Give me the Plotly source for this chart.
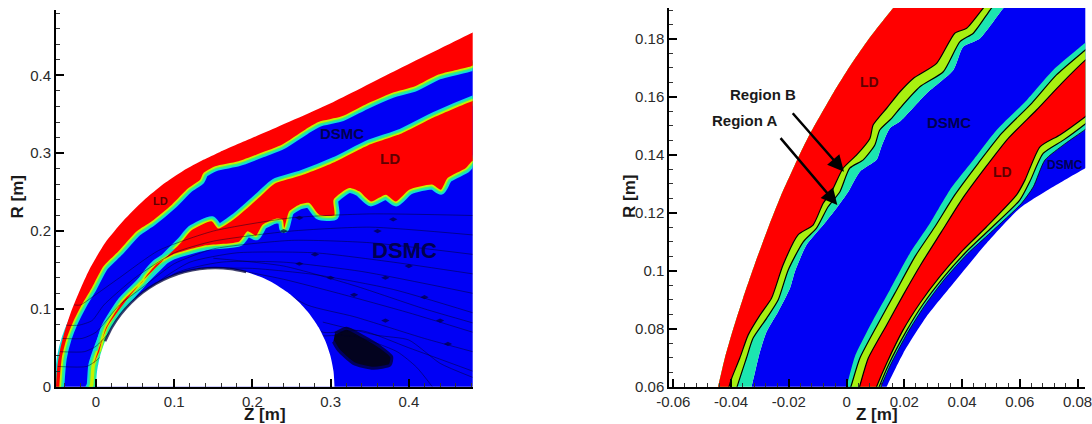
import plotly.graph_objects as go

RED = "#FF0000"; BLUE = "#0000F5"; TEAL = "#1CE6B0"; LIME = "#A8F010"
INK = "#1a1a1a"

# ---------- left panel (Z, R in metres) ----------
shock_z = [-0.0515, -0.0512, -0.0495, -0.046, -0.0396, -0.0311, -0.0205, -0.0088, 0.0115, 0.0349, 0.0605, 0.0861, 0.1116, 0.1372, 0.1586, 0.218, 0.303, 0.389, 0.4817, 0.5]
shock_r = [-0.01, 0, 0.0257, 0.0472, 0.0729, 0.0986, 0.1243, 0.15, 0.1847, 0.2132, 0.2389, 0.2603, 0.2775, 0.2915, 0.3017, 0.3275, 0.3655, 0.409, 0.455, 0.464]
b1_z = [-0.0452, -0.0448, -0.0418, -0.0354, -0.0269, -0.0162, -0.0035, 0.0115, 0.0307, 0.0541, 0.0733, 0.0989, 0.1202, 0.1352, 0.1394, 0.1544, 0.1841, 0.2182, 0.2396, 0.2694, 0.2864, 0.3163, 0.3461, 0.3802, 0.4101, 0.4399, 0.4817, 0.5]
b1_r = [-0.01, 0, 0.0343, 0.06, 0.0816, 0.1028, 0.1243, 0.1522, 0.1714, 0.1971, 0.21, 0.2314, 0.2528, 0.2635, 0.2721, 0.2807, 0.2871, 0.2999, 0.3085, 0.3278, 0.3376, 0.3449, 0.3599, 0.3749, 0.3835, 0.3985, 0.4092, 0.418]
b2_z = [-0.0105, -0.0098, -0.0077, -0.0055, 0.003, 0.0136, 0.035, 0.0605, 0.0818, 0.1074, 0.1202, 0.1458, 0.1543, 0.1756, 0.2097, 0.2268, 0.2609, 0.3035, 0.3461, 0.3887, 0.4314, 0.4817, 0.5]
b2_r = [-0.01, 0, 0.0043, 0.03, 0.0557, 0.0814, 0.1114, 0.1414, 0.1628, 0.1885, 0.2035, 0.2151, 0.2057, 0.2185, 0.2485, 0.2635, 0.2742, 0.2913, 0.3128, 0.3278, 0.3492, 0.3706, 0.377]
b3_z = [0.0051, 0.0136, 0.035, 0.0605, 0.0648, 0.0776, 0.0989, 0.1415, 0.1841, 0.1948, 0.2055, 0.214, 0.231, 0.2396, 0.2417, 0.2481, 0.2609, 0.2737, 0.2864, 0.3056, 0.3048, 0.3248, 0.3376, 0.3525, 0.3717, 0.3845, 0.4015, 0.4314, 0.442, 0.4506, 0.474, 0.4817, 0.5]
b3_r = [0.0428, 0.0728, 0.1071, 0.1328, 0.1392, 0.1542, 0.1671, 0.1791, 0.1842, 0.1971, 0.1919, 0.2057, 0.2134, 0.2121, 0.2014, 0.2228, 0.2314, 0.2335, 0.2185, 0.2177, 0.2378, 0.2528, 0.2485, 0.2356, 0.2442, 0.2356, 0.2506, 0.2571, 0.2506, 0.2656, 0.2785, 0.2871, 0.297]
body_z = [0, 0, 0.0013, 0.0052, 0.0116, 0.0204, 0.0315, 0.0447, 0.0597, 0.0763, 0.0941, 0.113, 0.1326, 0.1525, 0.1724, 0.192, 0.2109, 0.2287, 0.2453, 0.2603, 0.2735, 0.2846, 0.2934, 0.2998, 0.3037, 0.305, 0.305]
body_r = [-0.01, 0, 0.0199, 0.0395, 0.0584, 0.0763, 0.0928, 0.1078, 0.121, 0.1321, 0.1409, 0.1473, 0.1512, 0.1525, 0.1512, 0.1473, 0.1409, 0.1321, 0.121, 0.1078, 0.0928, 0.0763, 0.0584, 0.0395, 0.0199, 0, -0.01]
vortex_z = [0.3056, 0.3205, 0.3419, 0.3632, 0.3781, 0.376, 0.3546, 0.3291, 0.3099, 0.3035]
vortex_r = [0.0686, 0.075, 0.0643, 0.0514, 0.0386, 0.0278, 0.0236, 0.03, 0.0471, 0.0578]
stream_z = [
    [-0.028, -0.02, -0.005, 0.03, 0.08, 0.15, 0.25, 0.35, 0.4817],
    [-0.038, -0.022, -0.005, 0.01, 0.05, 0.1, 0.15, 0.25, 0.35, 0.4817],
    [-0.043, -0.018, 0.0, 0.03, 0.06, 0.1, 0.15, 0.25, 0.35, 0.4817],
    [-0.046, -0.015, 0.0, 0.04, 0.08, 0.12, 0.18, 0.28, 0.38, 0.4817],
    [-0.049, -0.012, 0.002, 0.05, 0.1, 0.16, 0.24, 0.34, 0.4817],
    [0.13, 0.2, 0.28, 0.38, 0.4817],
    [0.18, 0.24, 0.31, 0.4, 0.4817],
    [0.22, 0.27, 0.33, 0.42, 0.4817],
    [0.26, 0.29, 0.34, 0.4, 0.4817],
    [0.285, 0.33, 0.385, 0.41, 0.43],
    [0.29, 0.36, 0.4, 0.44, 0.4817],
    [0.15, 0.24, 0.33, 0.42, 0.4817],
]
stream_r = [
    [0.105, 0.105, 0.115, 0.14, 0.175, 0.2, 0.217, 0.222, 0.22],
    [0.079, 0.079, 0.085, 0.105, 0.14, 0.172, 0.187, 0.2, 0.205, 0.195],
    [0.062, 0.062, 0.07, 0.105, 0.128, 0.158, 0.177, 0.188, 0.185, 0.17],
    [0.045, 0.045, 0.052, 0.095, 0.135, 0.16, 0.172, 0.172, 0.16, 0.145],
    [0.026, 0.026, 0.035, 0.09, 0.145, 0.16, 0.16, 0.148, 0.12],
    [0.152, 0.152, 0.144, 0.125, 0.095],
    [0.15, 0.138, 0.12, 0.095, 0.07],
    [0.135, 0.105, 0.09, 0.062, 0.045],
    [0.09, 0.07, 0.072, 0.05, 0.02],
    [0.065, 0.065, 0.045, 0.025, 0.0],
    [0.083, 0.066, 0.06, 0.03, 0.012],
    [0.165, 0.155, 0.13, 0.1, 0.082],
]
arrow_z = [0.26, 0.38, 0.24, 0.36, 0.28, 0.4, 0.26, 0.37, 0.3, 0.42, 0.33, 0.44, 0.37, 0.45]
arrow_r = [0.217, 0.215, 0.2, 0.2, 0.17, 0.155, 0.158, 0.14, 0.14, 0.115, 0.118, 0.085, 0.085, 0.055]

# ---------- right panel (Z, R in metres) ----------
s_z = [-0.0458, -0.0445, -0.0422, -0.0393, -0.0358, -0.0318, -0.0272, -0.0228, -0.0162, -0.0127, -0.0046, 0.0011, 0.0069, 0.0115, 0.0161, 0.0185]
s_r = [0.055, 0.06, 0.0697, 0.0798, 0.0907, 0.1023, 0.1147, 0.1257, 0.1402, 0.1472, 0.1614, 0.1705, 0.1789, 0.1849, 0.1906, 0.1935]
t_z = [-0.0418, -0.0407, -0.0398, -0.037, -0.0341, -0.03, -0.026, -0.022, -0.0168, -0.0116, -0.0081, -0.0052, -0.0012, 0.0035, 0.0081, 0.0092, 0.0139, 0.0185, 0.0231, 0.0312, 0.0375, 0.0416, 0.0473, 0.0497]
t_r = [0.055, 0.06, 0.0629, 0.0698, 0.0778, 0.0847, 0.0905, 0.102, 0.1124, 0.1158, 0.1233, 0.1273, 0.1354, 0.14, 0.1457, 0.1503, 0.1561, 0.1618, 0.1664, 0.1716, 0.182, 0.1837, 0.1906, 0.1935]
m_z = [-0.0392, -0.0379, -0.0347, -0.0324, -0.0277, -0.0237, -0.0202, -0.015, -0.0104, -0.0064, -0.0023, 0.0011, 0.0058, 0.0098, 0.0115, 0.0156, 0.0185, 0.0254, 0.0335, 0.0393, 0.0439, 0.0497, 0.0525]
m_r = [0.055, 0.06, 0.0698, 0.0767, 0.0836, 0.0899, 0.1003, 0.11, 0.1147, 0.1221, 0.1273, 0.1354, 0.1383, 0.1434, 0.1486, 0.1526, 0.1561, 0.1635, 0.1687, 0.1791, 0.182, 0.19, 0.1935]
c_z = [-0.0343, -0.0329, -0.03, -0.0277, -0.0237, -0.0196, -0.0179, -0.0139, -0.0081, -0.0035, 0.0006, 0.0046, 0.0104, 0.0121, 0.015, 0.0185, 0.0277, 0.037, 0.0404, 0.0462, 0.0543, 0.0572]
c_r = [0.055, 0.06, 0.0721, 0.079, 0.0859, 0.094, 0.0997, 0.1089, 0.1158, 0.1216, 0.1273, 0.1342, 0.1383, 0.1429, 0.1492, 0.1515, 0.1612, 0.1693, 0.1773, 0.1802, 0.1906, 0.1935]
e_z = [-0.0018, 0.0, 0.0029, 0.0092, 0.015, 0.0219, 0.0289, 0.0358, 0.0439, 0.052, 0.0624, 0.0716, 0.0827, 0.09]
e_r = [0.055, 0.06, 0.0704, 0.083, 0.0934, 0.106, 0.1164, 0.1279, 0.1382, 0.1486, 0.1589, 0.1693, 0.1787, 0.185]
f_z = [-0.0003, 0.0015, 0.0046, 0.011, 0.0167, 0.0237, 0.0306, 0.0375, 0.0456, 0.0537, 0.0641, 0.0727, 0.0827, 0.09]
f_r = [0.055, 0.06, 0.0698, 0.0819, 0.0922, 0.1049, 0.1152, 0.1262, 0.1371, 0.1474, 0.1578, 0.1676, 0.1762, 0.1824]
g_z = [0.0029, 0.0045, 0.0075, 0.0139, 0.0196, 0.026, 0.0329, 0.0398, 0.0479, 0.056, 0.0658, 0.0745, 0.0827, 0.09]
g_r = [0.055, 0.06, 0.0698, 0.0813, 0.0916, 0.1026, 0.1135, 0.1244, 0.1354, 0.1457, 0.1555, 0.1647, 0.1727, 0.1787]
h_z = [0.0085, 0.0104, 0.0139, 0.0196, 0.0254, 0.0323, 0.0404, 0.0485, 0.0589, 0.0618, 0.067, 0.0739, 0.0827, 0.09]
h_r = [0.055, 0.06, 0.0681, 0.0796, 0.0888, 0.098, 0.1072, 0.1152, 0.1262, 0.1313, 0.1428, 0.1469, 0.1532, 0.159]
i_z = [0.0094, 0.0113, 0.0148, 0.0206, 0.0263, 0.0333, 0.0413, 0.0494, 0.06, 0.0635, 0.0681, 0.0751, 0.0827, 0.09]
i_r = [0.055, 0.06, 0.0681, 0.079, 0.0882, 0.0974, 0.1064, 0.1141, 0.1244, 0.1308, 0.1405, 0.1451, 0.1507, 0.1565]
j_z = [0.01, 0.0119, 0.0152, 0.021, 0.0268, 0.0337, 0.0418, 0.0499, 0.0606, 0.0647, 0.0687, 0.0756, 0.0827, 0.09]
j_r = [0.055, 0.06, 0.0675, 0.0784, 0.0876, 0.0968, 0.1058, 0.1132, 0.1233, 0.129, 0.1382, 0.1438, 0.1488, 0.1546]
k_z = [0.0117, 0.0139, 0.0196, 0.0277, 0.037, 0.0485, 0.06, 0.0716, 0.0827, 0.09]
k_r = [0.055, 0.06, 0.0715, 0.0842, 0.0957, 0.1095, 0.1216, 0.129, 0.1354, 0.1394]

left_x_ticks = [0, 0.1, 0.2, 0.3, 0.4]
left_x_labels = ["0", "0.1", "0.2", "0.3", "0.4"]
left_y_ticks = [0, 0.1, 0.2, 0.3, 0.4]
left_y_labels = ["0", "0.1", "0.2", "0.3", "0.4"]
right_x_ticks = [-0.06, -0.04, -0.02, 0, 0.02, 0.04, 0.06, 0.08]
right_x_labels = ["-0.06", "-0.04", "-0.02", "0", "0.02", "0.04", "0.06", "0.08"]
right_y_ticks = [0.06, 0.08, 0.1, 0.12, 0.14, 0.16, 0.18]
right_y_labels = ["0.06", "0.08", "0.1", "0.12", "0.14", "0.16", "0.18"]

fig = go.Figure()
SPL = dict(shape="spline", smoothing=0.6)


def fill(z, r, color, xa="x", ya="y"):
    fig.add_trace(go.Scatter(x=z, y=r, mode="lines", fill="toself", fillcolor=color, line=dict(width=0, **SPL),
                             xaxis=xa, yaxis=ya, hoverinfo="skip", showlegend=False))


def stroke(z, r, color, width, xa="x", ya="y"):
    fig.add_trace(go.Scatter(x=z, y=r, mode="lines", line=dict(color=color, width=width, **SPL),
                             xaxis=xa, yaxis=ya, hoverinfo="skip", showlegend=False))


def between(z_a, r_a, z_b, r_b):
    return list(z_a) + list(z_b)[::-1], list(r_a) + list(r_b)[::-1]


def edge(z, r, dz, dr):
    """The band arrays give the middle of each band; the red fill stops at its red side."""
    return [v + dz for v in z], [v + dr for v in r]


# left panel: blue field, then band strokes under the red fills
e1 = edge(b1_z, b1_r, -0.002, 0.0025)
e2 = edge(b2_z, b2_r, 0.002, -0.0025)
e3 = edge(b3_z, b3_r, -0.001, 0.0025)
fill(e1[0] + [0.5], e1[1] + [-0.01], BLUE)
for z, r in (e1, e2, e3):
    stroke(z, r, "#10D8E0", 10)
    stroke(z, r, "#30F080", 7)
    stroke(z, r, "#C8F000", 3.5)
fill(*between(shock_z, shock_r, *e1), RED)
fill(*between(*e3, e2[0][3:], e2[1][3:]), RED)
# vortex, streamlines and their arrow marks
fig.add_trace(go.Scatter(x=vortex_z, y=vortex_r, mode="lines", fill="toself", fillcolor="#03031f",
                         line=dict(color="#000060", width=3, **SPL), hoverinfo="skip", showlegend=False))
for z, r in zip(stream_z, stream_r):
    stroke(z, r, "rgba(0,0,40,0.6)", 0.8)
fig.add_trace(go.Scatter(x=arrow_z, y=arrow_r, mode="markers", hoverinfo="skip", showlegend=False,
                         marker=dict(symbol="diamond-wide", size=6, color="rgba(0,0,60,0.7)", line=dict(width=0))))
# body, with the dark crowding of lines along its front
fill(body_z, body_r, "white")
stroke(body_z[4:16], body_r[4:16], "rgba(0,0,60,0.75)", 2.5)

# right panel
X2, Y2 = "x2", "y2"
fill(c_z + [0.09] + k_z[::-1], c_r + [0.1935] + k_r[::-1], BLUE, X2, Y2)
fill(*between(s_z, s_r, c_z, c_r), TEAL, X2, Y2)
fill(*between(s_z, s_r, m_z, m_r), LIME, X2, Y2)
fill(*between(s_z, s_r, t_z, t_r), RED, X2, Y2)
stroke(m_z, m_r, "black", 1.2, X2, Y2)
stroke(t_z, t_r, "black", 1.2, X2, Y2)
fill(*between(e_z, e_r, j_z, j_r), TEAL, X2, Y2)
fill(*between(f_z, f_r, i_z, i_r), LIME, X2, Y2)
fill(*between(g_z, g_r, h_z, h_r), RED, X2, Y2)
for z, r in [(f_z, f_r), (g_z, g_r), (h_z, h_r), (i_z, i_r)]:
    stroke(z, r, "black", 1.2, X2, Y2)
stroke(j_z, j_r, "black", 0.8, X2, Y2)

tick_font = dict(family="Liberation Sans, Arial, sans-serif", size=15, color="#2a2a2a")
title_font = dict(family="Liberation Sans, Arial, sans-serif", size=17, color=INK)


def axis(domain, rng, vals, labels, minor, anchor):
    return dict(domain=domain, range=rng, anchor=anchor, tickmode="array", tickvals=vals, ticktext=labels,
                ticks="inside", ticklen=8, tickwidth=2, tickcolor="black", showline=True, linecolor="black",
                linewidth=2, showgrid=False, zeroline=False, tickfont=tick_font, ticklabeloverflow="allow",
                minor=dict(ticks="inside", ticklen=4, tickwidth=1, tickcolor="#333", dtick=minor, tick0=0, showgrid=False))


W, H = 1092, 424
xd = lambda a, b: [a / W, b / W]
yd = lambda top, bottom: [1 - bottom / H, 1 - top / H]
fig.update_layout(
    width=W, height=H, margin=dict(l=0, r=0, t=0, b=0, autoexpand=False), paper_bgcolor="white", plot_bgcolor="white",
    showlegend=False,
    xaxis=axis(xd(56, 472.7), [-0.0512, 0.4817], left_x_ticks, left_x_labels, 0.02, "y"),
    yaxis=axis(yd(10, 386.7), [0, 0.484], left_y_ticks, left_y_labels, 0.02, "x"),
    xaxis2=axis(xd(669.3, 1085.3), [-0.0614, 0.0827], right_x_ticks, right_x_labels, 0.004, "y2"),
    yaxis2=axis(yd(8, 386.7), [0.06, 0.1907], right_y_ticks, right_y_labels, 0.005, "x2"),
)


def label(x, y, text, size, color, xr="x", yr="y"):
    fig.add_annotation(x=x, y=y, xref=xr, yref=yr, text="<b>%s</b>" % text, showarrow=False,
                       font=dict(family="Liberation Sans, Arial, sans-serif", size=size, color=color))


def title(px, py, text, angle=0):
    fig.add_annotation(x=px / W, y=1 - py / H, xref="paper", yref="paper", xanchor="center", yanchor="middle",
                       text="<b>%s</b>" % text, showarrow=False, textangle=angle, font=title_font)


title(265, 414, "Z [m]")
title(877, 414, "Z [m]")
title(17.5, 197, "R [m]", -90)
title(630, 197, "R [m]", -90)

DARKB = "#000050"; DARKR = "#600000"
label(0.394, 0.175, "DSMC", 22, DARKB)
label(0.315, 0.3248, "DSMC", 15, DARKB)
label(0.376, 0.293, "LD", 15, DARKR)
label(0.082, 0.238, "LD", 11, DARKR)
label(0.0081, 0.1653, "LD", 14, DARKR, "x2", "y2")
label(0.0356, 0.1512, "DSMC", 15, DARKB, "x2", "y2")
label(0.0539, 0.134, "LD", 14, DARKR, "x2", "y2")
label(0.0756, 0.1365, "DSMC", 12, DARKB, "x2", "y2")
label(-0.0289, 0.161, "Region B", 15, INK, "x2", "y2")
label(-0.0354, 0.1518, "Region A", 15, INK, "x2", "y2")
for hx, hy, tx, ty in [(-0.0009, 0.1342, -0.0191, 0.1549), (-0.0032, 0.1227, -0.0233, 0.1463)]:
    fig.add_annotation(x=hx, y=hy, xref="x2", yref="y2", ax=tx, ay=ty, axref="x2", ayref="y2", text="",
                       showarrow=True, arrowhead=2, arrowsize=1.3, arrowwidth=2.5, arrowcolor="black")

fig.write_html("out.html", config=dict(displayModeBar=False),
               post_script="document.body.style.margin='0';")
